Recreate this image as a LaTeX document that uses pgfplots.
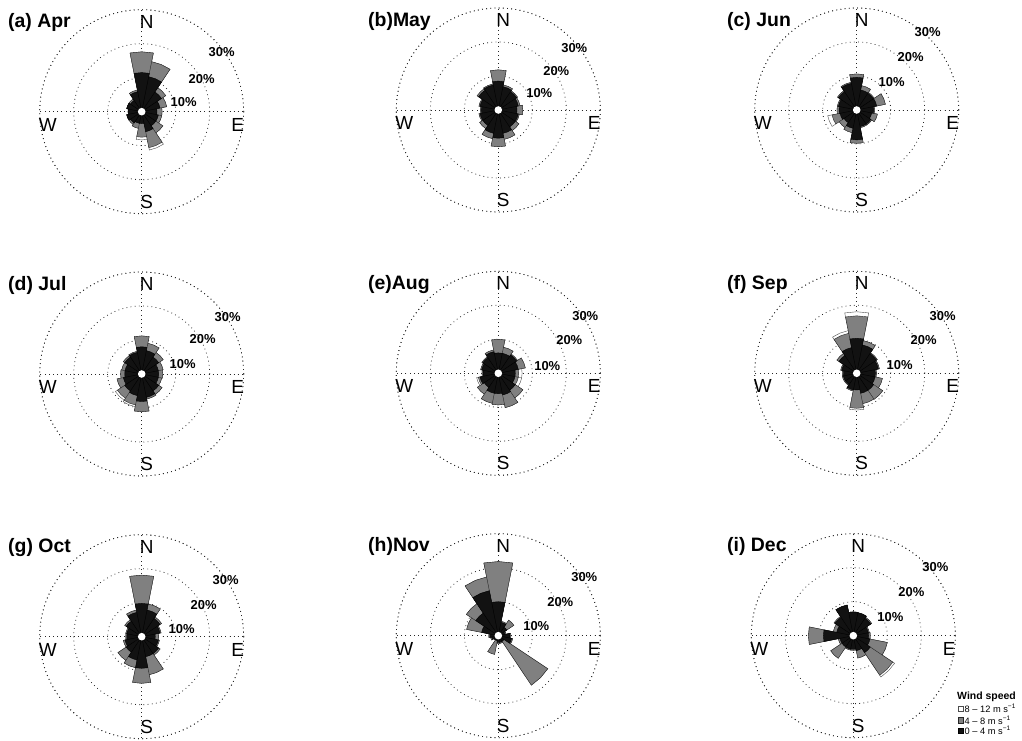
\documentclass[border=0pt]{standalone}
\usepackage{fontspec}
\setmainfont{Liberation Sans}
\usepackage{pgfplots}
\pgfplotsset{compat=1.18}
\usepgfplotslibrary{polar}

\pgfplotsset{
  rose/.style={
    scale only axis, width=204bp, height=204bp, anchor=center,
    ymin=0, ymax=30,
    xtick={0,90,180,270}, ytick={10,20,30},
    xticklabels={}, yticklabels={},
    grid=major,
    major grid style={black!85, line width=0.8pt, dash pattern=on 0.8pt off 3.4pt},
    axis line style={black!85, line width=0.8pt, dash pattern=on 0.8pt off 3.4pt},
    tick style={draw=none},
  },
}
\tikzset{
  windW/.style={fill=white, draw=black!70, line width=0.4pt},
  windG/.style={fill=black!50, draw=black!85, line width=0.4pt},
  windB/.style={fill=black!93, draw=black, line width=0.4pt},
  dirlab/.style={font=\fontsize{19}{19}\selectfont, inner sep=0pt},
  titlab/.style={font=\bfseries\fontsize{19.5}{19.5}\selectfont, inner sep=0pt, anchor=west},
  pctlab/.style={font=\bfseries\fontsize{13}{13}\selectfont, inner sep=0pt},
}

% data: 16 directions N, NNE, ..., NNW ; each entry  0-4 / 4-8 / 8-12 m/s  (percent)
\newcommand\rose[1]{%
  \gdef\ptsW{}\gdef\ptsG{}\gdef\ptsB{}%
  \foreach \vb/\vg/\vw [count=\i from 0] in {#1}{%
    \pgfmathsetmacro\aa{90-22.5*\i-11.25}%
    \pgfmathsetmacro\am{90-22.5*\i}%
    \pgfmathsetmacro\ab{90-22.5*\i+11.25}%
    \pgfmathsetmacro\rB{\vb}%
    \pgfmathsetmacro\rG{\vb+\vg}%
    \pgfmathsetmacro\rW{\vb+\vg+\vw}%
    \xdef\ptsW{\ptsW (\aa,0) (\aa,\rW) (\am,\rW) (\ab,\rW) (\ab,0)}%
    \xdef\ptsG{\ptsG (\aa,0) (\aa,\rG) (\am,\rG) (\ab,\rG) (\ab,0)}%
    \xdef\ptsB{\ptsB (\aa,0) (\aa,\rB) (\am,\rB) (\ab,\rB) (\ab,0)}%
  }%
  \edef\temp{%
    \noexpand\addplot[windW] coordinates {\ptsW};
    \noexpand\addplot[windG] coordinates {\ptsG};
    \noexpand\addplot[windB] coordinates {\ptsB};}%
  \temp
}

% #1 cx, #2 cy, #3 title x, #4 title, #5 data
\newcommand\panel[5]{%
  \begin{polaraxis}[rose, at={(#1bp,#2bp)}]
    \rose{#5}
  \end{polaraxis}
  \fill[white] (#1,#2) circle[radius=3.8];
  \node[dirlab] at (#1+5,#2+90) {N};
  \node[dirlab] at (#1+5,#2-90) {S};
  \node[dirlab] at (#1+96,#2-13) {E};
  \node[dirlab] at (#1-94,#2-13) {W};
  \node[titlab] at (#3,#2+89) {#4};
}
% #1 cx, #2 cy, then offsets of 30%, 20%, 10%
\newcommand\pct[8]{%
  \node[pctlab] at (#1+#3,#2+#4) {30\%};
  \node[pctlab] at (#1+#5,#2+#6) {20\%};
  \node[pctlab] at (#1+#7,#2+#8) {10\%};
}

\begin{document}
\begin{tikzpicture}[x=1bp,y=1bp]
\path[use as bounding box] (0,0) rectangle (1022,741);

% (a) Apr
\panel{141.7}{629.3}{8}{(a) Apr}{11.5/6.1/0, 10.5/4.5/0, 7/1.5/0, 5.5/2/0, 4.5/1.5/0, 5/1/0, 5/2.5/0, 6/4.8/0.7,
  3.5/4/0.8, 3.5/1.5/0, 4/0.5/0, 4.5/0/0, 4/0/0, 4.5/0/0, 4/0.5/0, 6/0.5/0}
\pct{141.7}{629.3}{80}{60}{60}{33}{42}{10}

% (b) May
\panel{498.3}{631}{368}{(b)May}{8.5/3.3/0, 7/0.5/0, 6.5/0.3/0, 6/0.5/0, 5.5/1.7/0, 6/0.3/0, 6/1.3/0, 7/1.8/0,
  8.3/2.5/0, 7/1.6/0, 5.5/1.1/0, 5.5/0.3/0, 5/0.3/0, 5.5/0.3/0, 7/0.5/0, 7.5/0.3/0}
\pct{498.3}{631}{76}{62}{58}{39}{41}{17}

% (c) Jun
\panel{856.7}{631}{727}{(c) Jun}{9.6/1/0, 6/1.3/0, 5.9/0.3/0, 6/2.6/0, 5/0.3/0, 4.5/1.7/0, 5/0.3/0, 5/0.3/0,
  8.8/1/0, 5.5/1.3/0, 4.5/1.7/0, 5/2.4/1.3, 5.2/0.6/0, 5.5/0.3/0, 6.5/0.3/0, 8/0.3/0}
\pct{856.7}{631}{71}{78}{54}{53}{35}{28}

% (d) Jul
\panel{141.7}{367}{8}{(d) Jul}{8/3.2/0, 7/2.2/0, 6/1.6/0, 5/1.4/0, 5/1.2/0, 5/1/0, 6/1.2/0, 7/0.5/0,
  8.1/3/0, 6.5/2.8/0.5, 6/2.6/0.7, 5.5/1.9/0, 5/1.2/0, 5/1/0, 6/0.5/0, 6.5/0.3/0}
\pct{141.7}{367}{86}{57}{61}{35}{41}{10}

% (e) Aug
\panel{498.3}{367.7}{368}{(e)Aug}{6/4/0, 6/1.8/0, 6.5/0.3/0, 6/2.1/0, 5/1/1, 5/1/1, 6/2.7/0, 6.5/3.8/0,
  6/3.3/0, 6/3/0, 5/2.4/0, 5.5/0.5/0.5, 4.5/0.3/0, 5/0.3/0, 5.5/0.3/0, 6.5/0.5/0}
\pct{498.3}{367.7}{87}{57}{71}{33}{49}{7}

% (f) Sep
\panel{856.7}{367.7}{727}{(f) Sep}{10.3/6.6/1.2, 8.5/1.3/0, 7/0.3/0, 6.5/0.3/0, 5.5/0.3/0, 5.5/2.2/0, 6/3.2/0, 6/3.1/0,
  4.9/5.4/0.5, 5/0.3/0, 4/0.3/0, 4/0.3/0, 3.9/0.3/0, 4.5/0.3/0, 6.3/0.7/0, 7.7/4.3/0.8}
\pct{856.7}{367.7}{86}{57}{67}{33}{43}{8}

% (g) Oct
\panel{141.7}{104.3}{8}{(g) Oct}{9.8/8.3/0, 8/1.8/0, 6.5/0.5/0, 5.5/0.3/0, 4/1/0, 5/0.3/0, 6/0.5/0, 6/5.4/0,
  9.3/4.4/0, 7/2.3/0, 5.5/2.9/0, 5/0.5/0, 4.4/0.3/0, 4.5/0.3/0, 5.5/0.5/0, 7.3/0.7/0}
\pct{141.7}{104.3}{84}{57}{62}{32}{40}{8}

% (h) Nov
\panel{498.3}{105.3}{368}{(h)Nov}{10/11.8/0, 4/0.3/0, 3/2.5/0, 2/0.3/0, 3.4/0.3/0, 4/0.3/0, 2/15.5/0, 2/0.3/0,
  2/0.3/0, 1.5/4.1/0, 1.5/0/0, 2/0.3/0, 2.5/0.3/0, 5/4.5/0, 8/3.3/0, 13.5/4.1/0}
\pct{498.3}{105.3}{86}{59}{62}{34}{38}{10}

% (i) Dec
\panel{853.3}{105.3}{727}{(i) Dec}{7/0/0, 6.9/0/0, 6.2/0.3/0, 4.5/0.3/0, 4.5/0.5/0, 5/5.2/0, 6/8/0.6, 4.5/2.2/0,
  4/0.3/0, 4/0.3/0, 4/4/0, 4/0.5/0, 8.8/4.4/0, 5/1/0, 6.5/0.3/0, 9.2/0/0}
\pct{853.3}{105.3}{82}{69}{58}{44}{37}{19}

% legend
\node[font=\bfseries\fontsize{10.5}{10.5}\selectfont, anchor=west, inner sep=0pt] at (957,44) {Wind speed};
\begin{scope}[font=\fontsize{9.3}{9.3}\selectfont]
  \draw[windW] (958,29.5) rectangle (963.5,35);
  \node[anchor=west, inner sep=0pt] at (964.5,32.5) {8 – 12 m s\textsuperscript{−1}};
  \draw[windG] (958,18) rectangle (963.5,23.5);
  \node[anchor=west, inner sep=0pt] at (964.5,21) {4 – 8 m s\textsuperscript{−1}};
  \draw[windB] (958,7.5) rectangle (963.5,13);
  \node[anchor=west, inner sep=0pt] at (964.5,10.5) {0 – 4 m s\textsuperscript{−1}};
\end{scope}
\end{tikzpicture}
\end{document}
